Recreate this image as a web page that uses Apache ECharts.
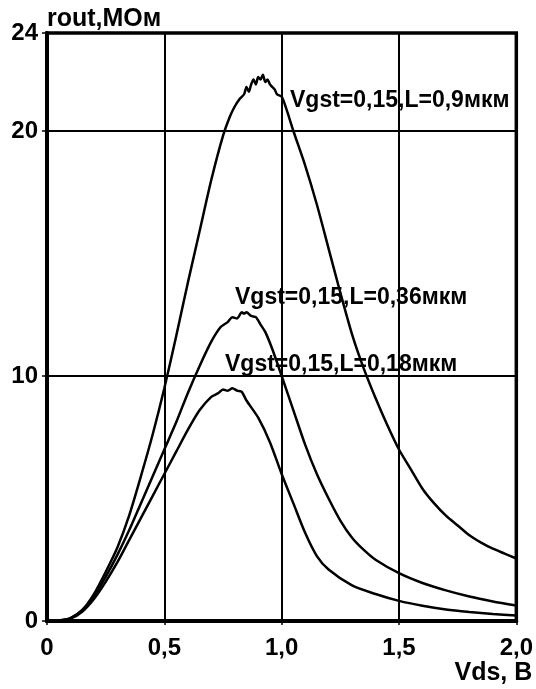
<!DOCTYPE html>
<html>
<head>
<meta charset="utf-8">
<script src="https://cdn.jsdelivr.net/npm/echarts@6/dist/echarts.min.js"></script>
<style>
html,body{margin:0;padding:0;background:#fff;}
#chart{width:536px;height:689px;}
</style>
</head>
<body>
<div id="chart"></div>
<script>
// ---- data ----
const xTickValues = [0, 0.5, 1.0, 1.5, 2.0];
const xTickLabels = ['0', '0,5', '1,0', '1,5', '2,0'];
const yTickValues = [0, 10, 20, 24];
const yTickLabels = ['0', '10', '20', '24'];
const xAxisName = 'Vds, В';
const yAxisName = 'rout,МОм';
const seriesNames = ['Vgst=0,15,L=0,9мкм', 'Vgst=0,15,L=0,36мкм', 'Vgst=0,15,L=0,18мкм'];

const vds09 = [0,0.05,0.1,0.15,0.2,0.25,0.3,0.35,0.4,0.45,0.5,0.55,0.6,0.65,0.7,0.75,0.78,0.8,0.82,0.84,0.85,0.86,0.87,0.88,0.89,0.9,0.91,0.92,0.93,0.94,0.95,0.96,0.97,0.98,1.0,1.02,1.05,1.1,1.15,1.2,1.25,1.3,1.35,1.4,1.45,1.5,1.55,1.6,1.65,1.7,1.75,1.8,1.85,1.9,1.95,2.0];
const rout09 = [0,0.02,0.12,0.45,1.1,2.0,3.0,4.3,5.9,7.6,9.5,11.6,13.8,15.9,18.0,19.8,20.6,21.0,21.3,21.5,21.8,21.6,21.9,22.1,21.9,22.2,22.1,22.3,22.0,22.1,21.9,21.8,21.7,21.5,21.4,20.9,20.0,18.6,17.0,15.2,13.4,11.7,10.3,9.1,8.0,7.0,6.2,5.4,4.8,4.3,3.9,3.5,3.2,2.95,2.75,2.55];

const vds036 = [0,0.05,0.1,0.15,0.2,0.25,0.3,0.35,0.4,0.45,0.5,0.55,0.6,0.65,0.7,0.74,0.77,0.79,0.81,0.83,0.84,0.85,0.87,0.89,0.91,0.93,0.96,1.0,1.05,1.1,1.15,1.2,1.25,1.3,1.35,1.4,1.5,1.6,1.7,1.8,1.9,2.0];
const rout036 = [0,0.02,0.12,0.42,1.0,1.8,2.7,3.7,4.8,5.9,7.0,8.1,9.3,10.4,11.4,12.0,12.2,12.4,12.35,12.6,12.55,12.6,12.45,12.4,12.1,11.8,11.1,10.0,8.6,7.2,6.0,5.0,4.1,3.4,2.9,2.5,1.95,1.55,1.25,1.0,0.8,0.63];

const vds018 = [0,0.05,0.1,0.15,0.2,0.25,0.3,0.35,0.4,0.45,0.5,0.55,0.6,0.65,0.7,0.73,0.75,0.77,0.79,0.81,0.83,0.85,0.9,0.95,1.0,1.05,1.1,1.15,1.2,1.3,1.4,1.5,1.6,1.7,1.8,1.9,2.0];
const rout018 = [0,0.02,0.1,0.38,0.9,1.6,2.4,3.3,4.2,5.1,6.0,6.9,7.8,8.6,9.15,9.3,9.45,9.4,9.5,9.4,9.35,9.0,8.3,7.3,6.0,4.8,3.6,2.65,2.1,1.45,1.1,0.82,0.62,0.47,0.37,0.29,0.22];

// ---- chart ----
const FONT = '"Liberation Sans", Arial, sans-serif';
function zip(xs, ys) { return xs.map((x, i) => [x, ys[i]]); }
function tickLabel(values, labels) {
  return function (v) {
    for (let i = 0; i < values.length; i++) {
      if (Math.abs(values[i] - v) < 1e-9) return labels[i];
    }
    return '';
  };
}

const chart = echarts.init(document.getElementById('chart'));
const lineSeries = (name, xs, ys) => ({
  name: name,
  type: 'line',
  data: zip(xs, ys),
  showSymbol: false,
  smooth: 0.25,
  lineStyle: {color: '#000', width: 2.5},
  itemStyle: {color: '#000'},
  silent: true,
  animation: false,
  z: 5
});

chart.setOption({
  backgroundColor: '#fff',
  animation: false,
  grid: {left: 47, right: 9, top: 33, bottom: 68, show: true, borderColor: '#000', borderWidth: 3.5, z: 10},
  xAxis: {
    type: 'value', min: 0, max: 2, interval: 0.5,
    name: xAxisName, nameLocation: 'end', nameGap: 16,
    nameTextStyle: {fontFamily: FONT, fontWeight: 'bold', fontSize: 25, color: '#000', align: 'right', verticalAlign: 'top', padding: [40, 0, 0, 0]},
    axisLine: {show: true, lineStyle: {color: '#000', width: 4}},
    axisTick: {show: true, inside: false, length: 4, lineStyle: {color: '#000', width: 1.5}},
    axisLabel: {show: true, margin: 15, fontFamily: FONT, fontWeight: 'bold', fontSize: 24, color: '#000', formatter: tickLabel(xTickValues, xTickLabels), showMaxLabel: true},
    splitLine: {show: true, lineStyle: {color: '#000', width: 2}}
  },
  yAxis: {
    type: 'value', min: 0, max: 24, interval: 10,
    name: yAxisName, nameLocation: 'end', nameGap: 1,
    nameTextStyle: {fontFamily: FONT, fontWeight: 'bold', fontSize: 25, color: '#000', align: 'left', verticalAlign: 'bottom'},
    axisLine: {show: true, lineStyle: {color: '#000', width: 4}},
    axisTick: {show: true, inside: false, length: 5, lineStyle: {color: '#000', width: 1.5}},
    axisLabel: {show: true, margin: 9, fontFamily: FONT, fontWeight: 'bold', fontSize: 24, color: '#000', formatter: tickLabel(yTickValues, yTickLabels), showMaxLabel: true, showMinLabel: true},
    splitLine: {show: true, lineStyle: {color: '#000', width: 2}}
  },
  series: [
    lineSeries(seriesNames[0], vds09, rout09),
    lineSeries(seriesNames[1], vds036, rout036),
    lineSeries(seriesNames[2], vds018, rout018)
  ],
  graphic: [
    {type: 'text', x: 290, y: 101, z: 20, silent: true, style: {text: seriesNames[0], font: 'bold 23px ' + FONT, fill: '#000', verticalAlign: 'middle'}},
    {type: 'text', x: 235, y: 298, z: 20, silent: true, style: {text: seriesNames[1], font: 'bold 23px ' + FONT, fill: '#000', verticalAlign: 'middle'}},
    {type: 'text', x: 225, y: 365, z: 20, silent: true, style: {text: seriesNames[2], font: 'bold 23px ' + FONT, fill: '#000', verticalAlign: 'middle'}}
  ]
});
</script>
</body>
</html>
